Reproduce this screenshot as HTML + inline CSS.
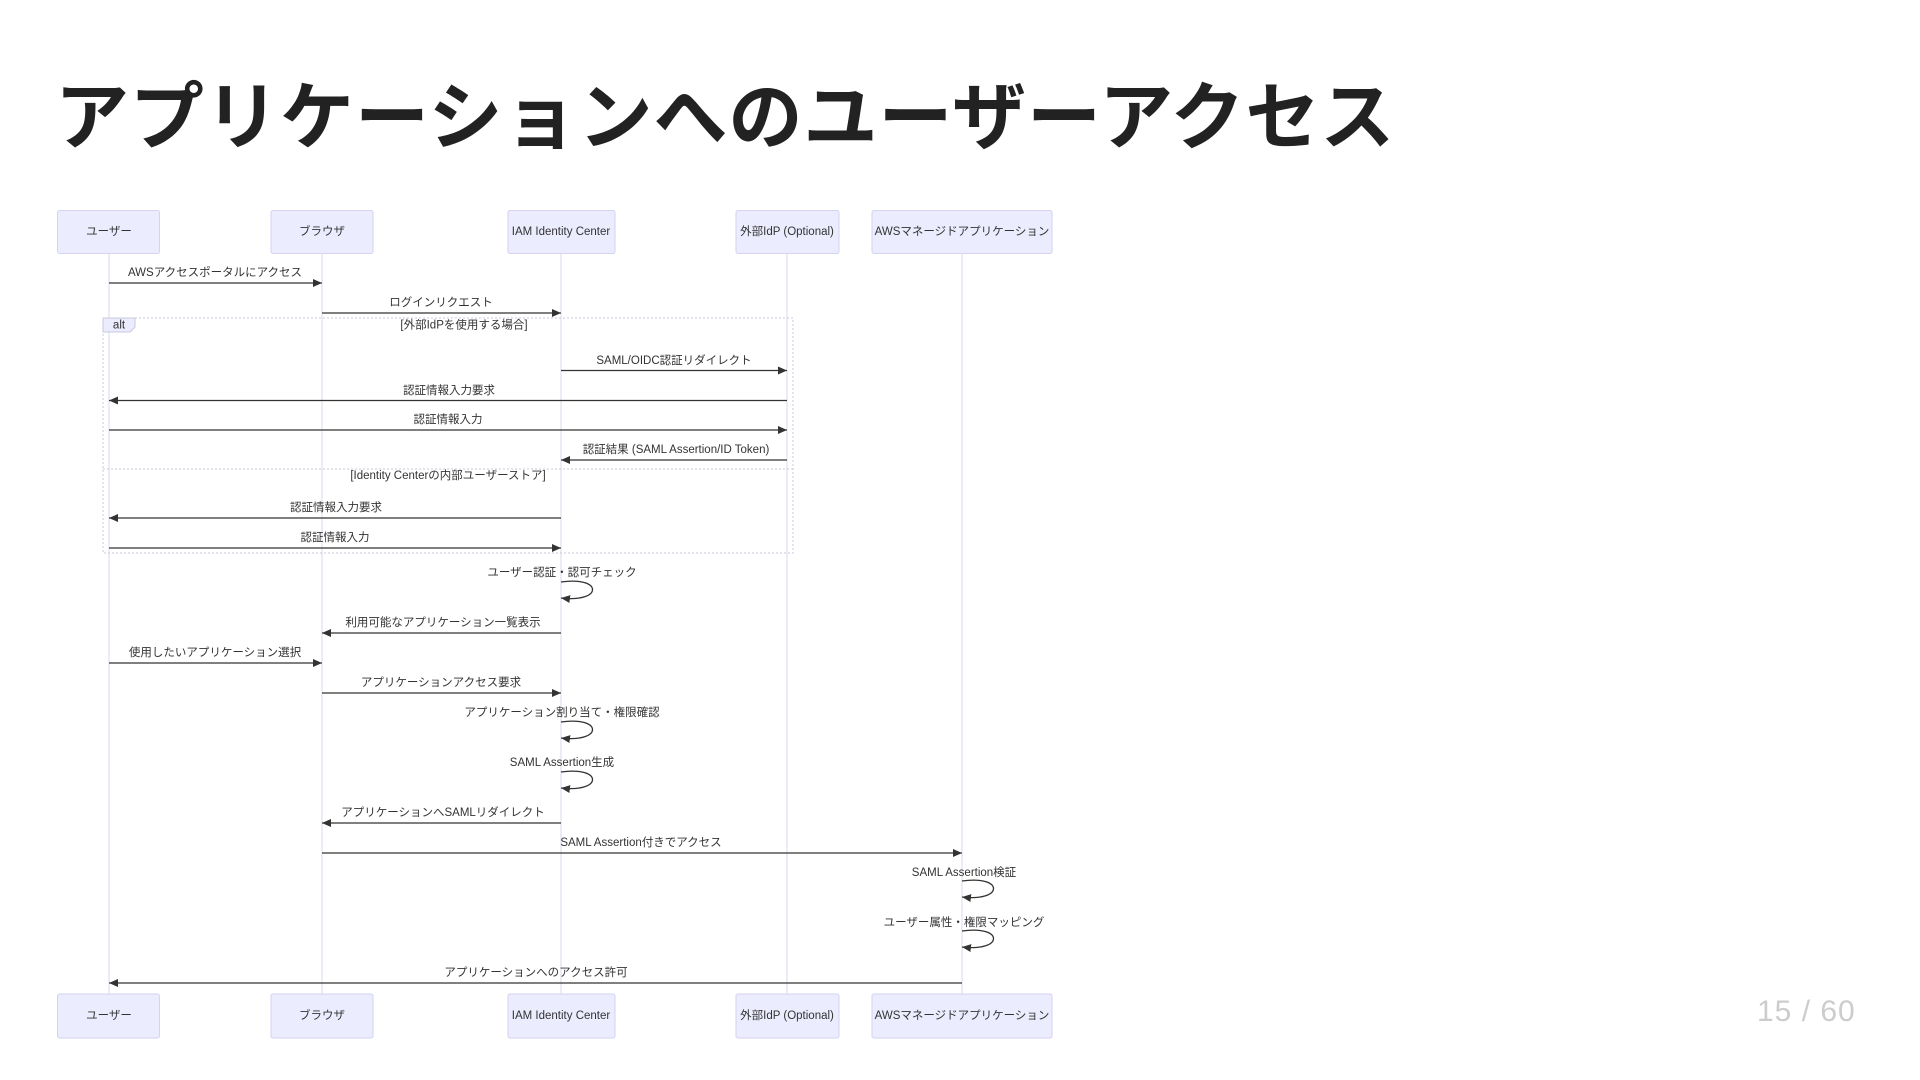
<!DOCTYPE html>
<html><head><meta charset="utf-8"><style>
html,body{margin:0;padding:0;background:#fff;width:1920px;height:1080px;overflow:hidden}
.t{position:absolute;left:55px;top:58px;font:bold 74px "Liberation Sans","Noto Sans CJK JP",sans-serif;color:#222;letter-spacing:1px;white-space:nowrap}
.pg{position:absolute;left:1757px;top:995px;font:30px "Liberation Sans","Noto Sans CJK JP",sans-serif;color:#ccc;letter-spacing:1px}
svg{position:absolute;left:0;top:0}
svg text{font-family:"Liberation Sans","Noto Sans CJK JP",sans-serif;font-size:11.5px;fill:#333;text-anchor:middle;dominant-baseline:middle}
</style></head><body>
<div class="t">アプリケーションへのユーザーアクセス</div>
<div class="pg">15 / 60</div>
<svg width="1920" height="1080" viewBox="0 0 1920 1080">
<defs><marker id="a" markerWidth="10" markerHeight="10" refX="9" refY="5" orient="auto" markerUnits="userSpaceOnUse"><path d="M0,1 L9,5 L0,9 z" fill="#333"/></marker></defs>
<g stroke="#d8d8e8" stroke-width="1">
<line x1="109" y1="253" x2="109" y2="994"/><line x1="322" y1="253" x2="322" y2="994"/><line x1="561" y1="253" x2="561" y2="994"/><line x1="787" y1="253" x2="787" y2="994"/><line x1="962" y1="253" x2="962" y2="994"/>
</g>
<g fill="#ececff" stroke="#d6d2f0" stroke-width="1">
<rect x="57.5" y="210.5" width="102" height="43" rx="2"/><rect x="271" y="210.5" width="102" height="43" rx="2"/><rect x="508" y="210.5" width="107" height="43" rx="2"/><rect x="736" y="210.5" width="103" height="43" rx="2"/><rect x="872" y="210.5" width="180" height="43" rx="2"/>
<rect x="57.5" y="994" width="102" height="44" rx="2"/><rect x="271" y="994" width="102" height="44" rx="2"/><rect x="508" y="994" width="107" height="44" rx="2"/><rect x="736" y="994" width="103" height="44" rx="2"/><rect x="872" y="994" width="180" height="44" rx="2"/>
</g>
<g>
<text x="109" y="232">ユーザー</text><text x="322" y="232">ブラウザ</text><text x="561" y="232">IAM Identity Center</text><text x="787" y="232">外部IdP (Optional)</text><text x="962" y="232">AWSマネージドアプリケーション</text>
<text x="109" y="1016">ユーザー</text><text x="322" y="1016">ブラウザ</text><text x="561" y="1016">IAM Identity Center</text><text x="787" y="1016">外部IdP (Optional)</text><text x="962" y="1016">AWSマネージドアプリケーション</text>
</g>
<g fill="none" stroke="#c8c8dc" stroke-width="1" stroke-dasharray="2,2">
<rect x="103" y="318" width="690" height="235"/>
<line x1="103" y1="469" x2="793" y2="469"/>
</g>
<path d="M103,318 H135 V327 L130,332 H103 Z" fill="#ececff" stroke="#c8c8dc"/>
<text x="119" y="325.5">alt</text>
<text x="464" y="325.5">[外部IdPを使用する場合]</text>
<text x="448" y="476">[Identity Centerの内部ユーザーストア]</text>
<g stroke="#333" stroke-width="1.3" fill="none" marker-end="url(#a)">
<line x1="109" y1="283" x2="322" y2="283"/>
<line x1="322" y1="313" x2="561" y2="313"/>
<line x1="561" y1="370.5" x2="787" y2="370.5"/>
<line x1="787" y1="400.5" x2="109" y2="400.5"/>
<line x1="109" y1="430" x2="787" y2="430"/>
<line x1="787" y1="460" x2="561" y2="460"/>
<line x1="561" y1="518" x2="109" y2="518"/>
<line x1="109" y1="548" x2="561" y2="548"/>
<path d="M561,582 C603,576 603,603 561,598"/>
<line x1="561" y1="633" x2="322" y2="633"/>
<line x1="109" y1="663" x2="322" y2="663"/>
<line x1="322" y1="693" x2="561" y2="693"/>
<path d="M561,722 C603,716 603,743 561,738"/>
<path d="M561,772 C603,766 603,793 561,788"/>
<line x1="561" y1="823" x2="322" y2="823"/>
<line x1="322" y1="853" x2="962" y2="853"/>
<path d="M962,881 C1004,875 1004,902 962,897"/>
<path d="M962,931 C1004,925 1004,952 962,947"/>
<line x1="962" y1="983" x2="109" y2="983"/>
</g>
<g>
<text x="215" y="273">AWSアクセスポータルにアクセス</text>
<text x="441" y="303">ログインリクエスト</text>
<text x="674" y="361">SAML/OIDC認証リダイレクト</text>
<text x="449" y="391">認証情報入力要求</text>
<text x="448" y="420">認証情報入力</text>
<text x="676" y="450">認証結果 (SAML Assertion/ID Token)</text>
<text x="336" y="508">認証情報入力要求</text>
<text x="335" y="538">認証情報入力</text>
<text x="562" y="573">ユーザー認証・認可チェック</text>
<text x="443" y="623">利用可能なアプリケーション一覧表示</text>
<text x="215" y="653">使用したいアプリケーション選択</text>
<text x="441" y="683">アプリケーションアクセス要求</text>
<text x="562" y="713">アプリケーション割り当て・権限確認</text>
<text x="562" y="763">SAML Assertion生成</text>
<text x="443" y="813">アプリケーションへSAMLリダイレクト</text>
<text x="641" y="843">SAML Assertion付きでアクセス</text>
<text x="964" y="873">SAML Assertion検証</text>
<text x="964" y="923">ユーザー属性・権限マッピング</text>
<text x="536" y="973">アプリケーションへのアクセス許可</text>
</g>
</svg>
</body></html>
